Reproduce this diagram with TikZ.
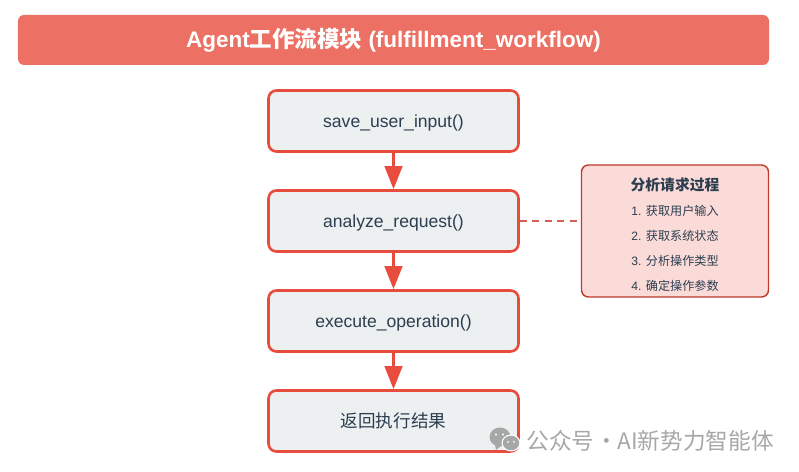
\documentclass[tikz,border=0pt]{standalone}
\usepackage{fontspec}
\setmainfont{Liberation Sans}
\newfontfamily\cjk{Noto Sans CJK SC}
\usetikzlibrary{positioning}
\usetikzlibrary{arrows.meta}
\definecolor{titlered}{HTML}{EC7063}
\definecolor{boxfill}{HTML}{ECF0F1}
\definecolor{boxline}{HTML}{E74C3C}
\definecolor{notefill}{HTML}{FADBD8}
\definecolor{noteline}{HTML}{C0392B}
\definecolor{inktext}{HTML}{2C3E50}
\definecolor{markgray}{HTML}{A6A8A8}
\tikzset{
  titlebox/.style={rectangle,rounded corners=0.12cm,fill=titlered,minimum width=15.02cm,minimum height=1cm,text=white,font=\fontsize{12.8}{15}\selectfont\bfseries},
  stepbox/.style={rectangle,rounded corners=0.16cm,draw=boxline,line width=1.5pt,fill=boxfill,minimum width=5cm,minimum height=1.22cm,text=inktext,text height=8pt,text depth=0.5pt,font=\fontsize{10}{12}\selectfont},
  notebox/.style={rectangle,rounded corners=0.14cm,draw=noteline,line width=0.8pt,fill=notefill,minimum width=3.74cm,minimum height=2.64cm},
  notetext/.style={text=inktext,font=\fontsize{6.9}{8}\selectfont},
  flowarrow/.style={draw=boxline,line width=1.7pt,-{Triangle[length=0.46cm,width=0.35cm,fill=boxline]}},
}
\begin{document}
\begin{tikzpicture}
\useasboundingbox (0,0) rectangle (15.98,9.44);
\node[titlebox] (header) at (7.87,8.64) {Agent{\cjk 工作流模块} (fulfillment\_workflow)};

\node[stepbox] (save) at (7.87,7.02) {save\_user\_input()};
\node[stepbox] (analyze) at (7.87,5.02) {analyze\_request()};
\node[stepbox] (execute) at (7.87,3.02) {execute\_operation()};
\node[stepbox] (result) at (7.87,1.02) {\cjk 返回执行结果};

\draw[flowarrow] (save) -- (analyze);
\draw[flowarrow] (analyze) -- (execute);
\draw[flowarrow] (execute) -- (result);

\node[notebox] (note) at (13.5,4.82) {};
\draw[noteline!80!white,line width=0.7pt,dash pattern=on 0.135cm off 0.115cm] (analyze.east) -- (note.west |- analyze.east);

\node[notetext,font=\fontsize{8.4}{9}\selectfont\bfseries] (notehead) at (13.5,5.74) {\cjk 分析请求过程};
\node[notetext] (noteone) at (13.5,5.22) {1. {\cjk 获取用户输入}};
\node[notetext] (notetwo) at (13.5,4.72) {2. {\cjk 获取系统状态}};
\node[notetext] (notethree) at (13.5,4.22) {3. {\cjk 分析操作类型}};
\node[notetext] (notefour) at (13.5,3.72) {4. {\cjk 确定操作参数}};

% watermark
\fill[markgray] (10.0,0.70) ellipse (0.21cm and 0.19cm);
\fill[markgray] (9.9,0.54) -- (9.92,0.44) -- (10.02,0.52) -- cycle;
\fill[white] (10.22,0.58) ellipse (0.19cm and 0.17cm);
\fill[markgray] (10.22,0.58) ellipse (0.165cm and 0.145cm);
\fill[white] (10.16,0.6) circle (0.02cm) (10.28,0.6) circle (0.02cm) (9.92,0.75) circle (0.024cm) (10.06,0.75) circle (0.024cm);
\node[anchor=west,inner sep=0pt,text=markgray,font=\fontsize{12.9}{14}\selectfont] (mark) at (10.52,0.62) {\cjk 公众号\hspace{0.025cm}·\hspace{-0.015cm}AI新势力智能体};
\end{tikzpicture}
\end{document}
